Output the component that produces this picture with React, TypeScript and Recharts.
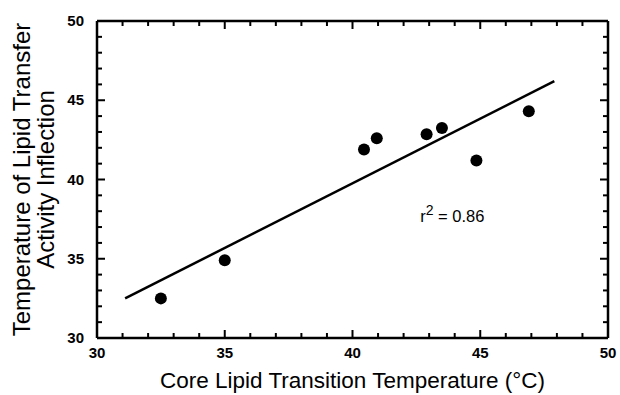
import React from "react";
import { ReferenceDot, ReferenceLine, Scatter, ScatterChart, XAxis, YAxis } from "recharts";

// core lipid transition temperature (°C) vs temperature of lipid transfer activity inflection
const coreTemp = [32.5, 35.0, 40.45, 40.95, 42.9, 43.5, 44.85, 46.9];
const inflectionTemp = [32.5, 34.9, 41.9, 42.6, 42.85, 43.25, 41.2, 44.3];
const fitLine = [
  { x: 31.1, y: 32.5 },
  { x: 47.9, y: 46.2 }
];
const axisTicks = [30, 31, 32, 33, 34, 35, 36, 37, 38, 39, 40, 41, 42, 43, 44, 45, 46, 47, 48, 49, 50];
const r2Text = "0.86";

const points = coreTemp.map((x, i) => ({ x, y: inflectionTemp[i] }));

const FONT = "'Liberation Sans', Arial, Helvetica, sans-serif";
const PLOT_H = 317; // bottom axis y minus top axis y
const INK = { stroke: "#000", strokeWidth: 2 };
const tickLen = (v: number) => (v % 5 === 0 ? 8 : 5);

// bottom tick also draws the matching inward tick on the top frame
function BottomTick({ x, y, payload }: any) {
  const v = payload.value;
  const len = tickLen(v);
  return (
    <g>
      <path d={`M${x},${y}V${y - len}`} style={INK} />
      <path d={`M${x},${y - PLOT_H}V${y - PLOT_H + len}`} style={INK} />
      {v % 5 === 0 && (
        <text x={x} y={y + 20} textAnchor="middle" fontSize={15} fontWeight="bold" fontFamily={FONT} fill="#000">
          {v}
        </text>
      )}
    </g>
  );
}

function LeftTick({ x, y, payload }: any) {
  const v = payload.value;
  return (
    <g>
      <path d={`M${x},${y}H${x + tickLen(v)}`} style={INK} />
      {v % 5 === 0 && (
        <text x={x - 13} y={y + 5} textAnchor="end" fontSize={15} fontWeight="bold" fontFamily={FONT} fill="#000">
          {v}
        </text>
      )}
    </g>
  );
}

function RightTick({ x, y, payload }: any) {
  return <path d={`M${x},${y}H${x - tickLen(payload.value)}`} style={INK} />;
}

function XTitle({ viewBox }: any) {
  return (
    <text x={viewBox.x + viewBox.width / 2} y={viewBox.y + 50} textAnchor="middle" fontSize={22.5} fontFamily={FONT} fill="#000">
      Core Lipid Transition Temperature (°C)
    </text>
  );
}

function YTitle({ viewBox }: any) {
  const cy = viewBox.y + viewBox.height / 2;
  return (
    <g>
      <text transform={`translate(${viewBox.x + 30}, ${cy}) rotate(-90)`} textAnchor="middle" fontSize={24} fontFamily={FONT} fill="#000">
        Temperature of Lipid Transfer
      </text>
      <text transform={`translate(${viewBox.x + 54}, ${cy}) rotate(-90)`} textAnchor="middle" fontSize={24} fontFamily={FONT} fill="#000">
        Activity Inflection
      </text>
    </g>
  );
}

function R2Label({ viewBox }: any) {
  return (
    <text x={viewBox.x} y={viewBox.y} fontSize={16.5} fontFamily={FONT} fill="#000">
      r
      <tspan fontSize={14} dy={-7}>2</tspan>
      <tspan dy={7}>{" = " + r2Text}</tspan>
    </text>
  );
}

const BlackDot = (p: any) => <circle cx={p.cx} cy={p.cy} r={6} fill="#000" />;

const axisCommon = {
  type: "number" as const,
  domain: [30, 50],
  allowDataOverflow: true,
  ticks: axisTicks,
  interval: 0,
  tickSize: 0,
  tickMargin: 0,
  tickLine: false,
  stroke: "#000",
  axisLine: { stroke: "#000", strokeWidth: 2.5 }
};

export default function App() {
  return (
    <div style={{ position: "absolute", left: 0, top: 0, background: "#fff" }}>
      <ScatterChart width={620} height={395} margin={{ top: 19, right: 10, bottom: 0, left: 0 }}>
        <XAxis {...axisCommon} xAxisId="b" dataKey="x" tick={<BottomTick />} height={57} label={{ content: XTitle }} />
        <XAxis {...axisCommon} xAxisId="t" orientation="top" tick={false} height={2} />
        <YAxis {...axisCommon} yAxisId="l" dataKey="y" tick={<LeftTick />} width={97} label={{ content: YTitle }} />
        <YAxis {...axisCommon} yAxisId="r" orientation="right" tick={<RightTick />} width={2} />
        <ReferenceLine xAxisId="b" yAxisId="l" segment={fitLine} stroke="#000" strokeWidth={2.5} />
        <Scatter xAxisId="b" yAxisId="l" data={points} shape={BlackDot} isAnimationActive={false} />
        <ReferenceDot xAxisId="b" yAxisId="l" x={42.65} y={37.3} r={0} stroke="none" label={{ content: R2Label }} />
      </ScatterChart>
    </div>
  );
}
